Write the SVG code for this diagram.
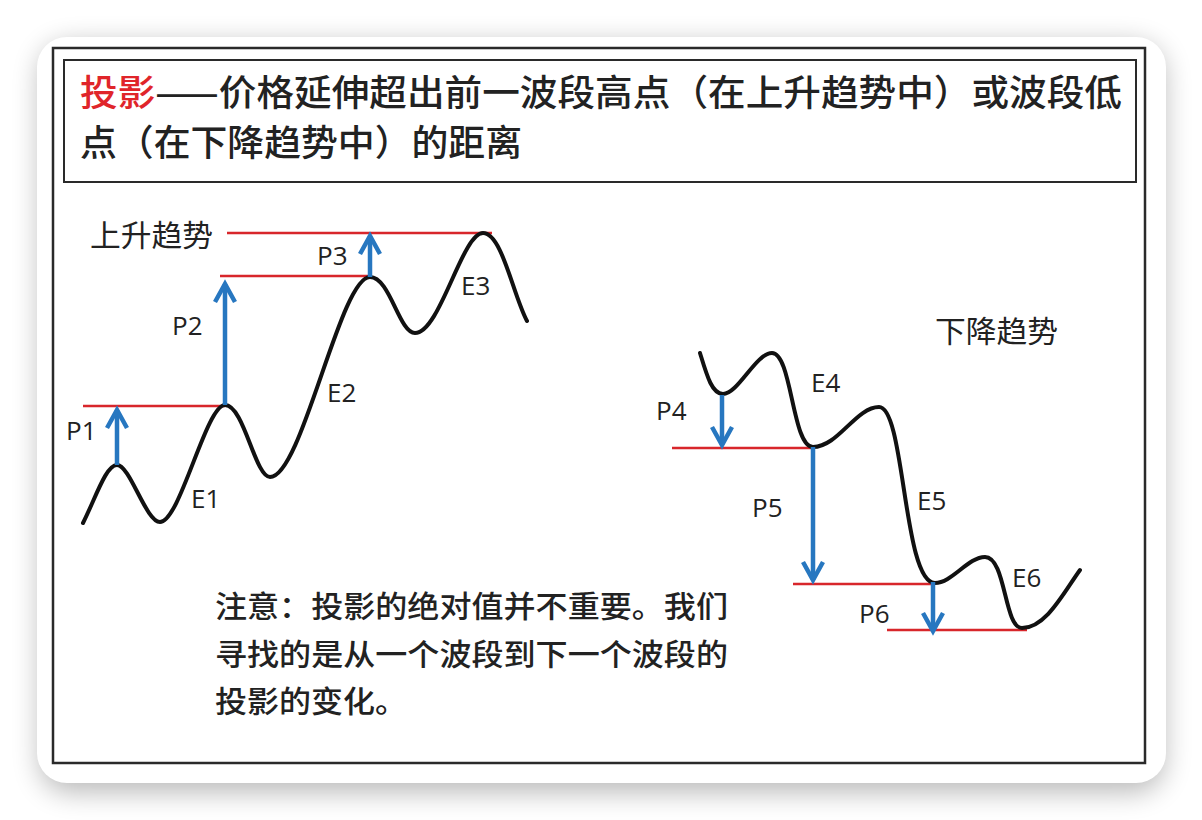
<svg xmlns="http://www.w3.org/2000/svg" width="1202" height="820" viewBox="0 0 1202 820">
<defs>
<filter id="sh" x="-10%" y="-10%" width="120%" height="125%">
<feGaussianBlur stdDeviation="14"/>
</filter>
<style>
.frame{fill:none;stroke:#2a2a2a;stroke-width:2.5}
.curve{fill:none;stroke:#111;stroke-width:4;stroke-linecap:round;stroke-linejoin:round}
.red{stroke:#d8262b;stroke-width:2.5}
.arr{fill:none;stroke:#2777c0;stroke-width:4.5;stroke-linecap:butt;stroke-linejoin:miter}
.cjk{font-family:"Noto Sans CJK SC","Noto Sans",sans-serif;fill:#222}
.lbl{font-family:"Open Sans","Liberation Sans",sans-serif;font-size:26px;fill:#222}
</style>
</defs>
<rect x="0" y="0" width="1202" height="820" fill="#ffffff"/>
<rect x="40" y="44" width="1124" height="748" rx="30" fill="#000" opacity="0.28" filter="url(#sh)"/>
<rect x="37" y="37" width="1129" height="746" rx="30" fill="#ffffff"/>
<rect class="frame" x="53" y="48" width="1092" height="715"/>
<g id="title">
<rect class="frame" x="64" y="60" width="1072" height="122" style="stroke-width:2"/>
<text class="cjk" x="80" y="106" font-size="36" font-weight="500" textLength="1042" lengthAdjust="spacingAndGlyphs"><tspan fill="#e0252a">投影</tspan>——价格延伸超出前一波段高点（在上升趋势中）或波段低</text>
<text class="cjk" x="80" y="156" font-size="36" font-weight="500" textLength="442" lengthAdjust="spacingAndGlyphs">点（在下降趋势中）的距离</text>
</g>
<g id="uptrend">
<text class="cjk" x="90" y="246" font-size="30" textLength="123" lengthAdjust="spacingAndGlyphs">上升趋势</text>
<line class="red" x1="83" y1="406" x2="225" y2="406"/>
<line class="red" x1="220" y1="276" x2="370" y2="276"/>
<line class="red" x1="227" y1="233" x2="492" y2="233"/>
<path class="curve" d="M83,523 C96,497 106,465 117,465 C130,465 146,522 160,522 C180,522 206,405 225,405 C244,405 255,477 270,477 C302,477 340,277 370,277 C390,277 399,333 415,333 C440,333 462,233 483,233 C502,233 513,295 527,321"/>
<g id="p1"><line class="arr" x1="117" y1="465" x2="117" y2="410"/><polyline class="arr" points="107,428 117,410 127,428"/><text class="lbl" x="66" y="440">P1</text></g>
<g id="p2"><line class="arr" x1="225" y1="405" x2="225" y2="284"/><polyline class="arr" points="215,302 225,284 235,302"/><text class="lbl" x="172" y="335">P2</text></g>
<g id="p3"><line class="arr" x1="370" y1="277" x2="370" y2="236"/><polyline class="arr" points="360,254 370,236 380,254"/><text class="lbl" x="317" y="265">P3</text></g>
<text class="lbl" x="191" y="508">E1</text>
<text class="lbl" x="327" y="402">E2</text>
<text class="lbl" x="461" y="295">E3</text>
</g>
<g id="downtrend">
<text class="cjk" x="935" y="342" font-size="30" textLength="123" lengthAdjust="spacingAndGlyphs">下降趋势</text>
<line class="red" x1="672" y1="448" x2="813" y2="448"/>
<line class="red" x1="793" y1="584" x2="935" y2="584"/>
<line class="red" x1="887" y1="630" x2="1027" y2="630"/>
<path class="curve" d="M700,353 C707,376 712,394 723,394 C738,394 756,353 772,353 C792,353 792,447 813,447 C838,447 856,407 879,407 C905,407 903,583 935,583 C952,583 968,557 985,557 C1006,557 1004,628 1022,628 C1046,628 1064,592 1080,570"/>
<g id="p4"><line class="arr" x1="722" y1="395" x2="722" y2="445"/><polyline class="arr" points="712,427 722,445 732,427"/><text class="lbl" x="656" y="420">P4</text></g>
<g id="p5"><line class="arr" x1="813" y1="447" x2="813" y2="580"/><polyline class="arr" points="803,562 813,580 823,562"/><text class="lbl" x="752" y="517">P5</text></g>
<g id="p6"><line class="arr" x1="933" y1="582" x2="933" y2="631"/><polyline class="arr" points="923,613 933,631 943,613"/><text class="lbl" x="859" y="623">P6</text></g>
<text class="lbl" x="811" y="392">E4</text>
<text class="lbl" x="917" y="510">E5</text>
<text class="lbl" x="1012" y="587">E6</text>
</g>
<g id="note">
<text class="cjk" x="215" y="617" font-size="30" font-weight="500" textLength="513" lengthAdjust="spacingAndGlyphs">注意：投影的绝对值并不重要。我们</text>
<text class="cjk" x="215" y="665" font-size="30" font-weight="500" textLength="513" lengthAdjust="spacingAndGlyphs">寻找的是从一个波段到下一个波段的</text>
<text class="cjk" x="215" y="712" font-size="30" font-weight="500" textLength="192" lengthAdjust="spacingAndGlyphs">投影的变化。</text>
</g>
</svg>
